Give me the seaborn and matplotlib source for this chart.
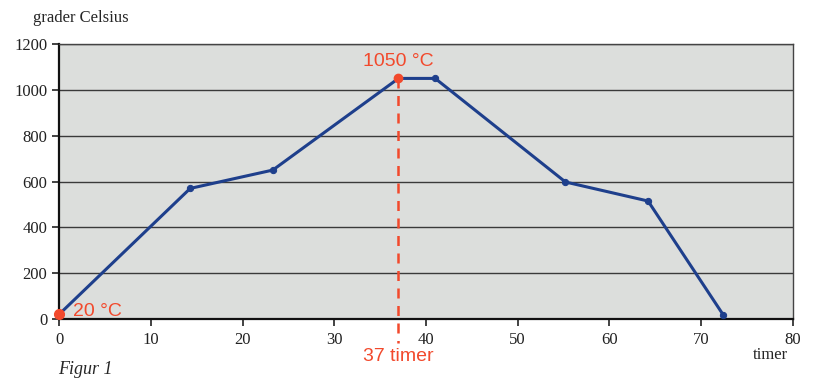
import pandas as pd
import matplotlib.pyplot as plt
import seaborn as sns

# ── Data ──────────────────────────────────────────────────────────────────────
hours = [0, 14.3, 23.3, 37, 41, 55.2, 64.2, 72.4]
temps = [20, 570, 650, 1050, 1050, 598, 515, 18]
x_ticks = [0, 10, 20, 30, 40, 50, 60, 70, 80]
y_ticks = [0, 200, 400, 600, 800, 1000, 1200]
peak_hour, peak_temp = 37, 1050

df = pd.DataFrame({'timer': hours, 'grader': temps})

# ── Style ─────────────────────────────────────────────────────────────────────
sns.set_style('white')
plt.rcParams['font.family'] = ['Liberation Serif', 'DejaVu Serif']

blue = '#1e3f8c'
red = '#f2492c'

fig = plt.figure(figsize=(8.15, 3.83), dpi=100)
ax = fig.add_axes([0.0724, 0.167, 0.9006, 0.718])
ax.set_facecolor('#dcdedc')

sns.lineplot(data=df, x='timer', y='grader', ax=ax, color=blue, lw=2.2,
             marker='o', markersize=4.5, markeredgecolor=blue, zorder=3)

ax.set_xlim(0, 80)
ax.set_ylim(0, 1200)
ax.set_xticks(x_ticks)
ax.set_yticks(y_ticks)
ax.set_xlabel('')
ax.set_ylabel('')
ax.tick_params(labelsize=12, colors='#222222', length=5, width=1.2,
               direction='out', bottom=True, left=True)
ax.tick_params(axis='x', pad=4)
ax.grid(axis='y', color='#3a3a3a', lw=1.0)
for side in ['left', 'bottom']:
    ax.spines[side].set_color('#111111')
    ax.spines[side].set_linewidth(1.6)
for side in ['top', 'right']:
    ax.spines[side].set_color('#444444')
    ax.spines[side].set_linewidth(1.0)

# peak marker and dashed guide
ax.plot([peak_hour, peak_hour], [peak_temp, -105], ls=(0, (4, 3)), color=red,
        lw=1.8, clip_on=False, zorder=4)
ax.plot([peak_hour], [peak_temp], 'o', color=red, ms=6, zorder=5)
ax.plot([hours[0]], [temps[0]], 'o', color=red, ms=7, zorder=5, clip_on=False)

sans = ['Liberation Sans', 'DejaVu Sans']
ax.text(peak_hour, 1122, f'{peak_temp} °C', color=red, fontsize=14,
        ha='center', va='center', family=sans)
ax.text(1.5, 35, '20 °C', color=red, fontsize=14, ha='left', va='center',
        family=sans)
ax.text(peak_hour, -165, f'{peak_hour} timer', color=red, fontsize=14,
        ha='center', va='center', family=sans, clip_on=False)

fig.text(33 / 815, 1 - 18 / 383, 'grader Celsius', fontsize=12, va='center')
fig.text(770 / 815, 1 - 355 / 383, 'timer', fontsize=12, va='center',
         ha='center')
fig.text(58 / 815, 1 - 369 / 383, 'Figur 1', fontsize=13, style='italic',
         va='center')

plt.savefig('out.png', dpi=100)
